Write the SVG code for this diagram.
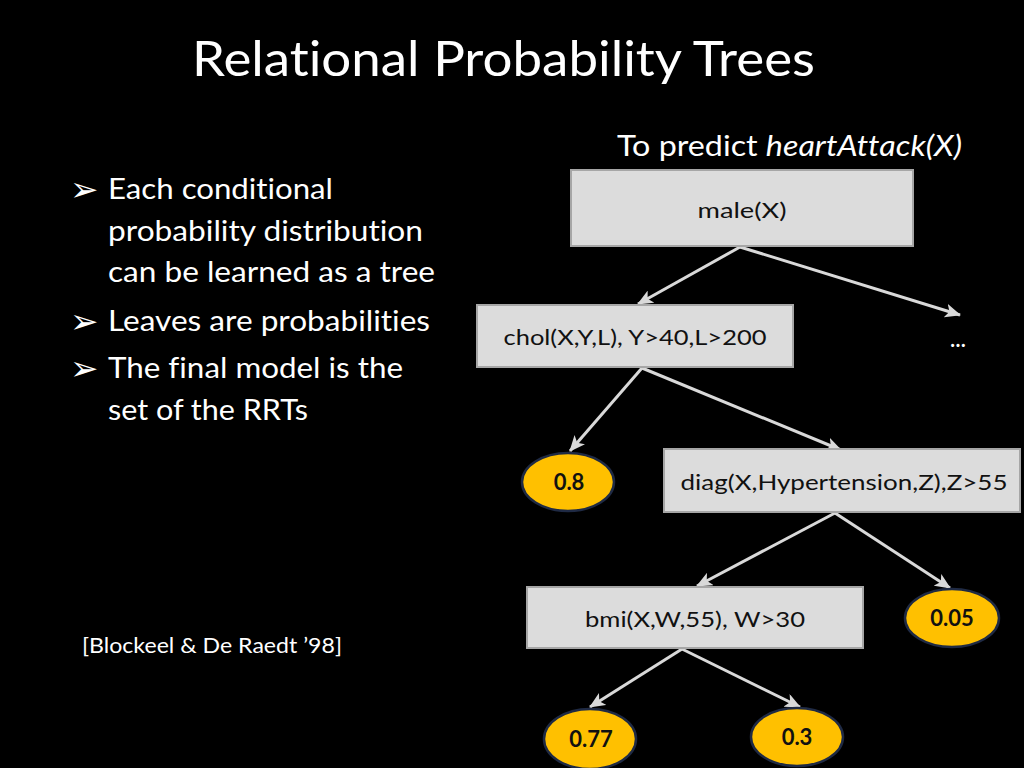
<svg xmlns="http://www.w3.org/2000/svg" width="1024" height="768" viewBox="0 0 1024 768">
<defs>
<style>
text{font-variant-ligatures:none;font-feature-settings:"liga" 0,"dlig" 0}
.t{font-family:Lato,"Open Sans","Liberation Sans",sans-serif;fill:#ffffff}
.box{fill:#dcdcdc;stroke:#a6a6a6;stroke-width:2}
.bl{font-family:Lato,"Open Sans","Liberation Sans",sans-serif;font-size:22px;fill:#111111;text-anchor:middle}
.leaf{fill:#ffc000;stroke:#1f2a44;stroke-width:2.5}
.ll{font-family:Lato,"Open Sans","Liberation Sans",sans-serif;font-size:22px;font-weight:bold;fill:#111111;text-anchor:middle}
.edge{stroke:#d9d9d9;stroke-width:3;fill:none;marker-end:url(#ah)}
.bul{font-family:"DejaVu Sans",sans-serif;font-size:34px;font-weight:bold;fill:#ffffff}
</style>
<marker id="ah" markerUnits="userSpaceOnUse" markerWidth="16" markerHeight="14" viewBox="0 0 16 14" refX="15" refY="7" orient="auto">
<path d="M0,0 L16,7 L0,14 L4,7 Z" fill="#d9d9d9"/>
</marker>
</defs>
<rect x="0" y="0" width="1024" height="768" fill="#000000"/>

<g id="title">
<text class="t" x="192" y="76" font-size="49" textLength="623" lengthAdjust="spacingAndGlyphs">Relational Probability Trees</text>
</g>
<g id="subtitle">
<text class="t" x="617" y="156" font-size="28" textLength="345" lengthAdjust="spacingAndGlyphs">To predict <tspan font-style="italic">heartAttack(X)</tspan></text>
</g>

<g id="bullets">
<text class="bul" x="70" y="201">➢</text>
<text class="bul" x="70" y="333">➢</text>
<text class="bul" x="70" y="380">➢</text>
<text class="t" font-size="28" x="108" y="199" textLength="225" lengthAdjust="spacingAndGlyphs">Each conditional</text>
<text class="t" font-size="28" x="108" y="241" textLength="315" lengthAdjust="spacingAndGlyphs">probability distribution</text>
<text class="t" font-size="28" x="108" y="282" textLength="327" lengthAdjust="spacingAndGlyphs">can be learned as a tree</text>
<text class="t" font-size="28" x="108" y="331" textLength="322" lengthAdjust="spacingAndGlyphs">Leaves are probabilities</text>
<text class="t" font-size="28" x="108" y="378" textLength="295" lengthAdjust="spacingAndGlyphs">The final model is the</text>
<text class="t" font-size="28" x="108" y="420" textLength="200" lengthAdjust="spacingAndGlyphs">set of the RRTs</text>
</g>

<g id="citation">
<text class="t" font-size="22" x="82" y="653" textLength="260" lengthAdjust="spacingAndGlyphs">[Blockeel &amp; De Raedt ’98]</text>
</g>

<g id="connectors">
<line class="edge" x1="740" y1="247" x2="638" y2="304"/>
<line class="edge" x1="740" y1="247" x2="960" y2="315"/>
<line class="edge" x1="642" y1="368" x2="570" y2="451"/>
<line class="edge" x1="642" y1="368" x2="841" y2="450"/>
<line class="edge" x1="835" y1="513" x2="697" y2="586"/>
<line class="edge" x1="835" y1="513" x2="950" y2="588"/>
<line class="edge" x1="682" y1="649" x2="590" y2="707"/>
<line class="edge" x1="682" y1="649" x2="800" y2="707"/>
</g>

<g id="n-male">
<rect class="box" x="571" y="170" width="342" height="76"/>
<text class="bl" x="742" y="218" textLength="89" lengthAdjust="spacingAndGlyphs">male(X)</text>
</g>
<g id="n-chol">
<rect class="box" x="477" y="305" width="316" height="62"/>
<text class="bl" x="635" y="345" textLength="263" lengthAdjust="spacingAndGlyphs">chol(X,Y,L), Y&gt;40,L&gt;200</text>
</g>
<g id="n-more">
<text class="t" font-size="20" font-weight="bold" x="958" y="347" text-anchor="middle">…</text>
</g>
<g id="n-08">
<ellipse class="leaf" cx="568" cy="482" rx="46" ry="29"/>
<text class="ll" x="569" y="490">0.8</text>
</g>
<g id="n-diag">
<rect class="box" x="664" y="449" width="356" height="63"/>
<text class="bl" x="844" y="490" textLength="327" lengthAdjust="spacingAndGlyphs">diag(X,Hypertension,Z),Z&gt;55</text>
</g>
<g id="n-bmi">
<rect class="box" x="527" y="587" width="336" height="61"/>
<text class="bl" x="695" y="627" textLength="220" lengthAdjust="spacingAndGlyphs">bmi(X,W,55), W&gt;30</text>
</g>
<g id="n-005">
<ellipse class="leaf" cx="952" cy="618" rx="47" ry="29"/>
<text class="ll" x="952" y="626">0.05</text>
</g>
<g id="n-077">
<ellipse class="leaf" cx="590" cy="739" rx="46" ry="30"/>
<text class="ll" x="591" y="747">0.77</text>
</g>
<g id="n-03">
<ellipse class="leaf" cx="797" cy="737" rx="46" ry="29"/>
<text class="ll" x="797" y="745">0.3</text>
</g>
</svg>
